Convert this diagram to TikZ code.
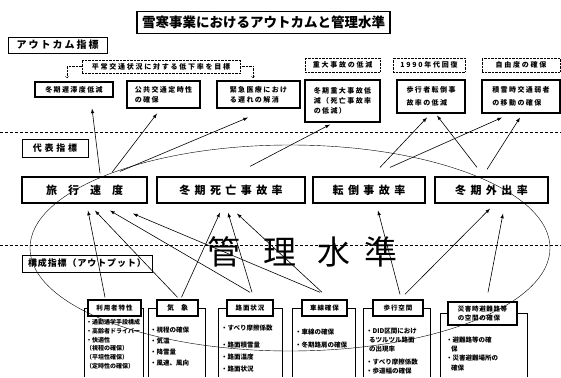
\documentclass[tikz,border=0pt]{standalone}
\usepackage{fontspec}
\setmainfont{Noto Sans CJK JP}
\usetikzlibrary{arrows,calc}

\begin{document}
\begin{tikzpicture}[x=1pt,y=-1pt,
	ttl/.style={draw,line width=1.2pt,font=\fontsize{13.5}{15}\selectfont\bfseries},
	hd/.style={draw,semithick,font=\fontsize{9}{11}\selectfont\bfseries\addfontfeatures{LetterSpace=30}},
	ocbox/.style={draw,line width=1.1pt,align=left,font=\fontsize{7}{10}\selectfont\bfseries\addfontfeatures{LetterSpace=20}},
	goal/.style={draw,densely dotted,font=\fontsize{7}{9}\selectfont\bfseries\addfontfeatures{LetterSpace=25}},
	rep/.style={draw,line width=1.2pt,minimum height=26pt,font=\fontsize{11}{13}\selectfont\bfseries\addfontfeatures{LetterSpace=40}},
	lbl/.style={draw,line width=1.4pt,minimum height=16pt,align=center,font=\fontsize{6.5}{8}\selectfont\bfseries\addfontfeatures{LetterSpace=15}},
	lst/.style={anchor=north west,align=left,inner sep=0pt,font=\fontsize{6.5}{9}\selectfont\bfseries},
	big/.style={font=\fontsize{33}{33}\selectfont},
	arr/.style={-latex,semithick},
	dotarr/.style={->,densely dotted},
	sep/.style={densely dashed,thin}]
	\useasboundingbox (0,0) rectangle (561,377);

	\node[ttl,minimum width=253pt,minimum height=22pt] (title) at (263.5,22.5) {雪寒事業におけるアウトカムと管理水準};
	\node[hd,minimum width=99pt,minimum height=16pt,font=\fontsize{10}{12}\selectfont\bfseries\addfontfeatures{LetterSpace=20}] (outhd) at (57.5,45) {アウトカム指標};

	\node[goal,minimum width=158pt,minimum height=13pt] (tgt) at (161,66.5) {平常交通状況に対する低下率を目標};
	\coordinate (tl) at (67,78);
	\coordinate (tr) at (253,78);
	\draw[dotarr] (tgt.west) -| (tl);
	\draw[dotarr] (tgt.east) -| (tr);
	\node[goal,minimum width=75pt,minimum height=14pt] (g4) at (342.5,65) {重大事故の低減};
	\node[goal,minimum width=72pt,minimum height=14pt] (g5) at (429,65) {1990年代回復};
	\node[goal,minimum width=78pt,minimum height=14pt] (g6) at (521,65) {自由度の確保};

	\node[ocbox,minimum width=78pt,minimum height=15pt,align=center] (oc1) at (74,89.5) {冬期遅滞度低減};
	\node[ocbox,minimum width=73pt,minimum height=27pt] (oc2) at (163.5,94.5) {公共交通定時性\\の確保};
	\node[ocbox,minimum width=83pt,minimum height=27pt] (oc3) at (258.5,94.5) {緊急医療におけ\\る遅れの解消};
	\node[ocbox,minimum width=75pt,minimum height=42pt] (oc4) at (342.5,101) {冬期重大事故低\\減（死亡事故率\\の低減）};
	\node[ocbox,minimum width=68pt,minimum height=33pt] (oc5) at (431,96.5) {歩行者転倒事\\[3pt]故率の低減};
	\node[ocbox,minimum width=78pt,minimum height=33pt] (oc6) at (521,96.5) {積雪時交通弱者\\[3pt]の移動の確保};

	\draw[sep] (0,132) -- (561,132);
	\node[hd,minimum width=66pt,minimum height=18pt] (rephd) at (55,148) {代表指標};

	\node[rep,minimum width=125pt,font=\fontsize{11}{13}\selectfont\bfseries\addfontfeatures{LetterSpace=100}] (rep1) at (84.5,190) {旅行速度};
	\node[rep,minimum width=148pt] (rep2) at (231,190) {冬期死亡事故率};
	\node[rep,minimum width=112pt] (rep3) at (369,190) {転倒事故率};
	\node[rep,minimum width=113pt] (rep4) at (491.5,190) {冬期外出率};

	\draw[sep] (0,245) -- (561,245);
	\node[big] (k1) at (224,252) {管};
	\node[big] (k2) at (280,252) {理};
	\node[big] (k3) at (334,252) {水};
	\node[big] (k4) at (381,252) {準};
	\draw[thin] (290,248) ellipse [x radius=260, y radius=103];

	\node[hd,minimum width=130pt,minimum height=17pt,font=\fontsize{9}{11}\selectfont\bfseries\addfontfeatures{LetterSpace=10}] (comphd) at (87,263.5) {構成指標（アウトプット）};

	\node[lbl,minimum width=53pt] (L1) at (114.5,308) {利用者特性};
	\node[lbl,minimum width=41pt,font=\fontsize{7}{8}\selectfont\bfseries\addfontfeatures{LetterSpace=100}] (L2) at (177.5,308) {気象};
	\node[lbl,minimum width=46pt] (L3) at (250,308) {路面状況};
	\node[lbl,minimum width=45pt] (L4) at (324.5,308) {車線確保};
	\node[lbl,minimum width=50pt] (L5) at (398,308) {歩行空間};
	\node[lbl,minimum width=69pt,minimum height=23pt,align=left,font=\fontsize{6.5}{9}\selectfont\bfseries\addfontfeatures{LetterSpace=10}] (L6) at (482.5,313.5) {災害時避難路等\\の空間の確保};

	\draw[semithick] (L1.west) -| (84,377);
	\draw[semithick] (L1.east) -| (143,377);
	\draw[semithick] (L2.west) -| (148,377);
	\draw[semithick] (L2.east) -| (205,377);
	\draw[semithick] (L3.west) -| (218,377);
	\draw[semithick] (L3.east) -| (282,377);
	\draw[semithick] (L4.west) -| (292,377);
	\draw[semithick] (L4.east) -| (355,377);
	\draw[semithick] (L5.west) -| (363,377);
	\draw[semithick] (L5.east) -| (430,377);
	\draw[semithick] (L6.west) -| (440,377);
	\draw[semithick] (L6.east) -| (527,377);

	\node[lst,font=\fontsize{6}{8.8}\selectfont\bfseries] (t1) at (86,319) {・通勤通学手段構成\\・高齢者ドライバー\\・快適性\\（視程の確保）\\（平坦性確保）\\（定時性の確保）};
	\node[lst,font=\fontsize{6.5}{11}\selectfont\bfseries] (t2) at (150,327) {・視程の確保\\・気温\\・降雪量\\・風速、風向};
	\node[lst,font=\fontsize{6.5}{12}\selectfont\bfseries] (t3) at (221,324.5) {・すべり摩擦係数\\[5pt]・路面積雪量\\・路面温度\\・路面状況};
	\node[lst,font=\fontsize{6.5}{13}\selectfont\bfseries] (t4) at (295,328.5) {・車線の確保\\・冬期路肩の確保};
	\node[lst,font=\fontsize{6.5}{9}\selectfont\bfseries] (t5) at (366,327.5) {・DID区間におけ\\\hspace{3pt}るツルツル路面\\\hspace{3pt}の出現率\\[4pt]・すべり摩擦係数\\・歩道幅の確保};
	\node[lst,font=\fontsize{6.5}{9.3}\selectfont\bfseries] (t6) at (446,336.5) {・避難路等の確\\\hspace{5pt}保\\・災害避難場所の\\\hspace{5pt}確保};

	\draw[arr] ($(rep1.north)+(15.5,-3)$) -- ($(oc1.south)+(18,11)$);
	\draw[arr] ($(rep1.north)+(27.5,-4)$) -- ($(oc2.south)+(-6.5,5)$);
	\draw[arr] ($(rep1.north)+(35.5,-5)$) -- ($(oc3.south)+(-10.5,9)$);
	\draw[arr] ($(rep2.north)+(19,-10)$) -- ($(oc4.south)+(-12.5,2)$);
	\draw[arr] ($(rep3.north)+(11,-9)$) -- ($(oc5.south)+(-4,4)$);
	\draw[arr] ($(rep3.north)+(21,-9)$) -- ($(oc6.south)+(-19,4)$);
	\draw[arr] ($(rep4.north)+(-14.5,-9)$) -- ($(oc5.south)+(6,2)$);
	\draw[arr] ($(rep4.north)+(-4.5,-7)$) -- ($(oc6.south)+(-1,4)$);

	\draw[arr] ($(L1.north)+(-9.5,-2)$) -- ($(rep1.south)+(3.5,7)$);
	\draw[arr] ($(L2.north)+(0,-2)$) -- ($(rep1.south)+(10.5,7)$);
	\draw[arr] ($(L3.north)+(0,-7)$) -- ($(rep1.south)+(25.5,7)$);
	\draw[arr] ($(L4.north)+(-4.5,-7)$) -- ($(rep1.south)+(48.5,10)$);
	\draw[arr] ($(L2.north)+(4,-2)$) -- ($(rep2.south)+(-11,9)$);
	\draw[arr] ($(L3.north)+(2,-7)$) -- ($(rep2.south)+(-3,9)$);
	\draw[arr] ($(L4.north)+(-2.5,-7)$) -- ($(rep2.south)+(6,10)$);
	\draw[arr] ($(L5.north)+(2,-5)$) -- ($(rep3.south)+(9,7)$);
	\draw[arr] ($(L5.north)+(7,-5)$) -- ($(rep4.south)+(-1.5,5)$);
	\draw[arr] ($(L6.north)+(5.5,-9)$) -- ($(rep4.south)+(11.5,10)$);
\end{tikzpicture}
\end{document}
